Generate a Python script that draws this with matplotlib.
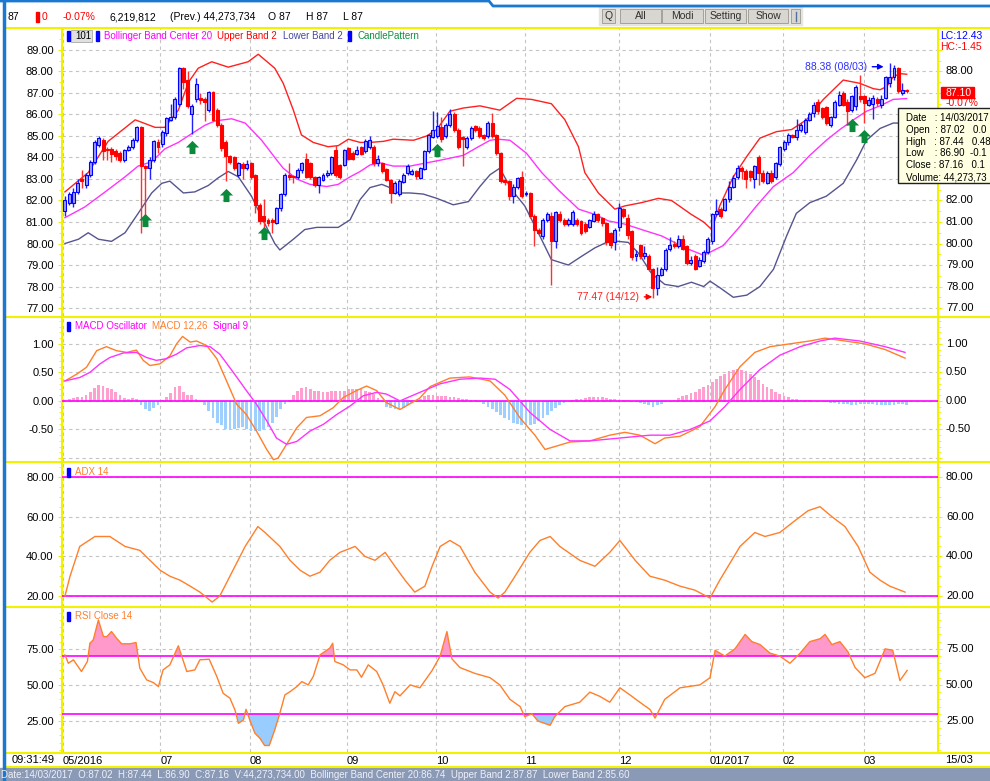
import matplotlib
matplotlib.use("Agg")
import matplotlib.pyplot as plt
import numpy as np
from matplotlib.lines import Line2D
from matplotlib.patches import Rectangle
from matplotlib.path import Path
from matplotlib.ticker import MultipleLocator

plt.rcParams['font.family'] = ['Liberation Sans', 'DejaVu Sans']
plt.rcParams['font.size'] = 8

# ---------------- data (bar 0 = last days of May 2016, bar 199 = 14/03/2017) ----------------
opens = [81.5, 81.9, 81.9, 82.4, 83.0, 82.7, 83.2, 83.8, 84.6, 84.8,
         84.4, 84.4, 84.3, 84.2, 83.9, 84.35, 84.5, 84.8, 85.4, 83.6,
         83.5, 83.9, 84.7, 84.65, 85.15, 85.75, 85.9, 86.5, 88.15, 87.6,
         86.0, 86.7, 86.75, 86.7, 86.2, 87.05, 86.2, 85.5, 84.7, 84.05,
         84.0, 83.2, 83.7, 83.5, 83.75, 83.2, 81.8, 81.3, 81.1, 81.1,
         80.95, 81.65, 82.3, 83.2, 83.15, 83.1, 83.4, 83.95, 83.75, 83.1,
         82.7, 82.95, 83.2, 83.3, 84.35, 83.65, 83.65, 84.45, 84.2, 84.15,
         84.5, 84.3, 84.5, 84.5, 83.75, 83.75, 83.45, 82.95, 82.35, 82.3,
         82.85, 83.3, 83.25, 83.35, 83.05, 83.45, 84.3, 84.95, 85.0, 85.4,
         85.0, 85.5, 86.0, 85.3, 84.95, 84.5, 84.9, 85.45, 85.35, 85.05,
         85.0, 85.6, 85.05, 84.2, 82.95, 82.9, 82.2, 82.65, 83.1, 82.3,
         82.35, 81.3, 80.65, 80.35, 81.1, 81.3, 80.1, 81.35, 81.1, 80.9,
         80.9, 81.1, 81.05, 80.9, 80.75, 81.05, 81.35, 81.2, 80.95, 80.5,
         80.05, 80.75, 81.6, 81.2, 80.6, 79.4, 79.95, 79.4, 79.4, 78.8,
         77.95, 78.55, 78.8, 79.75, 80.0, 79.9, 80.2, 79.9, 79.1, 79.4,
         78.95, 79.2, 79.6, 80.1, 81.35, 81.6, 81.55, 82.05, 82.65, 83.1,
         83.5, 83.35, 83.35, 83.0, 84.0, 83.3, 82.8, 83.3, 83.1, 83.7,
         84.4, 84.7, 85.05, 84.95, 85.3, 85.2, 85.75, 86.05, 86.6, 86.3,
         86.35, 85.5, 85.9, 86.45, 87.0, 86.6, 86.2, 86.4, 86.85, 86.85,
         86.45, 86.5, 86.7, 86.45, 86.75, 87.45, 87.75, 88.15, 87.02, 87.16]
highs = [82.2, 82.4, 82.6, 83.0, 83.4, 83.3, 83.9, 84.8, 85.0, 84.9,
         84.5, 84.5, 84.4, 84.3, 84.4, 84.6, 84.9, 85.45, 85.45, 83.65,
         84.0, 84.8, 84.85, 85.3, 85.9, 86.5, 86.8, 88.2, 88.2, 88.0,
         86.5, 87.7, 87.0, 86.8, 87.1, 87.1, 86.3, 85.6, 84.8, 84.1,
         84.05, 83.8, 83.8, 83.9, 83.8, 83.25, 81.9, 82.05, 81.2, 81.2,
         81.7, 82.35, 83.3, 83.75, 83.2, 83.5, 83.8, 84.2, 83.8, 83.15,
         83.15, 83.3, 83.4, 84.05, 84.6, 83.7, 84.4, 84.5, 84.3, 84.55,
         84.55, 84.85, 85.0, 84.6, 84.1, 83.8, 83.5, 83.0, 82.9, 83.0,
         83.3, 83.7, 83.45, 83.4, 83.55, 84.35, 85.1, 86.15, 86.1, 85.9,
         85.6, 86.25, 86.1, 85.35, 85.0, 85.0, 85.45, 85.5, 85.45, 85.1,
         85.7, 86.05, 85.1, 84.25, 83.0, 82.95, 82.75, 83.1, 83.35, 82.45,
         82.4, 81.35, 80.7, 81.2, 81.45, 81.45, 81.5, 81.5, 81.2, 81.2,
         81.55, 81.2, 81.1, 81.0, 81.15, 81.5, 81.4, 81.25, 81.0, 80.55,
         80.7, 81.9, 81.65, 81.35, 80.65, 79.7, 80.0, 79.9, 79.5, 78.85,
         78.9, 78.9, 79.8, 80.3, 80.1, 80.4, 80.4, 79.95, 79.4, 79.5,
         79.35, 79.7, 80.3, 81.4, 82.05, 81.7, 82.1, 82.9, 83.2, 83.65,
         83.6, 83.45, 83.4, 83.65, 84.1, 83.4, 83.35, 83.4, 83.8, 84.55,
         84.8, 85.15, 85.1, 85.8, 85.6, 85.85, 86.1, 86.6, 86.7, 86.35,
         86.4, 85.95, 86.65, 87.1, 87.1, 86.7, 86.9, 87.35, 87.85, 86.9,
         86.8, 86.9, 86.8, 86.9, 87.8, 88.38, 88.3, 88.2, 87.44, 87.2]
lows = [81.3, 81.8, 81.7, 82.3, 82.6, 82.6, 83.1, 83.7, 84.5, 83.9,
        83.9, 83.8, 83.9, 83.8, 83.8, 84.3, 84.4, 84.7, 80.5, 81.1,
        83.0, 83.8, 84.2, 84.5, 85.0, 85.7, 85.8, 86.4, 87.2, 86.3,
        85.1, 86.6, 86.5, 85.7, 86.1, 85.7, 85.4, 84.3, 82.9, 83.7,
        83.4, 83.1, 83.0, 83.4, 83.0, 81.4, 80.9, 80.4, 80.8, 80.5,
        80.9, 81.5, 82.2, 82.95, 82.8, 83.0, 83.3, 83.05, 83.0, 82.65,
        82.35, 82.9, 83.1, 83.2, 83.1, 83.0, 83.6, 83.9, 83.9, 84.1,
        84.1, 84.2, 84.4, 83.6, 83.6, 83.3, 82.9, 81.9, 82.3, 82.2,
        82.8, 83.2, 83.2, 83.0, 83.0, 83.4, 84.2, 84.9, 84.9, 84.7,
        84.9, 85.4, 85.2, 84.4, 83.6, 84.4, 84.8, 85.2, 84.9, 84.8,
        84.9, 84.9, 84.1, 82.8, 82.7, 82.0, 81.9, 82.55, 82.1, 82.2,
        81.2, 79.9, 80.4, 80.2, 81.0, 78.05, 79.8, 81.0, 80.8, 80.8,
        80.8, 80.8, 80.4, 80.5, 80.7, 81.0, 81.0, 80.8, 79.95, 79.8,
        79.7, 80.6, 81.2, 80.2, 79.25, 79.2, 79.3, 79.3, 78.7, 77.47,
        77.6, 78.5, 78.7, 79.65, 79.8, 79.8, 79.7, 79.0, 79.0, 78.75,
        78.9, 79.1, 79.5, 80.0, 81.3, 81.2, 81.5, 81.95, 82.6, 83.0,
        83.0, 82.6, 82.9, 82.6, 82.7, 82.8, 82.75, 82.8, 83.0, 83.6,
        84.3, 84.6, 84.9, 84.8, 85.2, 85.1, 85.7, 85.9, 86.0, 85.8,
        85.5, 85.4, 85.85, 86.4, 86.4, 85.5, 86.1, 86.2, 86.6, 85.6,
        86.4, 85.8, 86.4, 86.3, 86.7, 87.3, 87.6, 87.0, 86.90, 87.0]
closes = [82.0, 82.3, 82.4, 82.8, 82.9, 83.2, 83.8, 84.7, 84.9, 84.3,
          84.35, 84.15, 84.05, 83.9, 84.35, 84.5, 84.8, 85.4, 83.6, 83.5,
          83.9, 84.75, 84.5, 85.2, 85.85, 85.9, 86.7, 88.15, 87.5, 86.4,
          86.4, 87.4, 86.65, 86.6, 87.05, 85.75, 85.5, 84.45, 84.05, 83.8,
          83.5, 83.75, 83.5, 83.7, 83.1, 81.8, 81.05, 81.05, 80.95, 80.98,
          81.65, 82.3, 83.2, 83.1, 83.1, 83.4, 83.75, 83.1, 83.1, 82.7,
          83.1, 83.2, 83.3, 84.0, 83.2, 83.1, 84.35, 83.95, 83.95, 84.35,
          84.15, 84.75, 84.8, 83.75, 83.95, 83.35, 82.95, 82.35, 82.8, 82.9,
          83.2, 83.6, 83.35, 83.15, 83.5, 84.3, 85.05, 85.3, 85.45, 84.85,
          85.5, 86.0, 85.3, 84.5, 84.85, 84.9, 85.35, 85.3, 85.0, 84.9,
          85.6, 85.0, 84.2, 82.9, 82.85, 82.2, 82.65, 83.05, 82.2, 82.35,
          81.3, 80.65, 80.5, 81.1, 81.35, 80.1, 81.45, 81.1, 80.9, 81.1,
          81.45, 80.9, 80.5, 80.6, 81.1, 81.35, 81.1, 80.95, 80.05, 79.95,
          80.65, 81.65, 81.3, 80.4, 79.35, 79.5, 79.4, 79.55, 78.8, 77.95,
          78.55, 78.8, 79.7, 79.95, 79.9, 80.2, 79.75, 79.1, 79.25, 78.8,
          79.25, 79.6, 80.2, 81.35, 81.5, 81.3, 82.05, 82.65, 83.05, 83.5,
          83.35, 83.0, 83.1, 83.6, 83.3, 82.9, 83.3, 82.9, 83.75, 84.5,
          84.7, 85.05, 84.95, 85.3, 85.5, 85.75, 86.0, 86.45, 86.15, 85.9,
          85.6, 85.9, 86.6, 86.9, 86.45, 86.15, 86.85, 87.3, 86.7, 86.55,
          86.65, 86.75, 86.55, 86.7, 87.75, 87.75, 88.15, 87.1, 87.16, 87.10]

month_pos = [-0.5, 22.5, 43.7, 66.7, 87.7, 108.7, 131.0, 152.5, 169.7, 188.9]
month_labels = ['05/2016', '07', '08', '09', '10', '11', '12', '01/2017', '02', '03']

# Bollinger bands at sample bars
bb_up_x = [0, 5.5, 10.2, 16.6, 21.3, 23.6, 26.8, 29.2, 31.5, 34.7, 38.6, 43.3, 45.7, 49.6,
           51.6, 54.0, 55.9, 58.7, 62.2, 64.6, 67.0, 69.8, 72.1, 75.3, 77.6, 82.4, 85.5, 87.9,
           91.0, 94.2, 98.1, 102.8, 106.8, 110.3, 115.0, 118.2, 121.4, 122.9, 126.1, 130.0,
           132.4, 136.3, 140.3, 143.4, 148.1, 151.0, 152.9, 154.8, 158.0, 161.2, 164.3, 168.2,
           171.8, 175.3, 179.3, 184.0, 187.9, 191.1, 192.7, 194.3, 195.8, 197.4, 199.0]
bb_up = [82.4, 83.3, 84.75, 85.75, 85.4, 85.4, 86.2, 87.5, 88.15, 88.45, 88.2, 88.45, 88.8, 88.15,
         87.45, 86.2, 85.05, 84.7, 84.5, 84.55, 84.85, 84.7, 84.7, 84.75, 84.85, 84.8, 85.0, 85.3,
         86.15, 86.3, 86.4, 86.2, 86.75, 86.7, 86.5, 85.75, 84.5, 83.3, 82.35, 81.6,
         81.75, 81.9, 82.1, 82.0, 81.35, 81.0, 80.65, 81.75, 83.1, 84.05, 84.9, 85.2,
         85.3, 85.75, 86.7, 87.6, 87.45, 87.2, 87.15, 87.3, 87.75, 87.9, 87.87]
bb_mid_x = [0, 4.7, 9.5, 14.2, 17.3, 20.5, 23.6, 26.8, 29.9, 33.1, 35.5, 39.4, 42.6, 46.5, 49.6,
            51.6, 54.8, 57.9, 61.9, 64.6, 67.4, 69.8, 72.1, 74.5, 77.6, 81.6, 85.5, 89.4, 94.2,
            97.3, 100.5, 102.4, 105.2, 109.1, 112.7, 116.6, 121.4, 125.3, 128.5, 132.4, 136.3,
            141.1, 146.6, 151.0, 155.6, 159.6, 163.5, 167.5, 172.2, 176.1, 180.0, 183.2, 186.4,
            189.5, 192.7, 195.8, 199.0]
bb_mid = [81.2, 81.7, 82.4, 83.1, 83.6, 83.8, 84.4, 84.7, 85.1, 85.5, 85.7, 85.8, 85.6, 84.8, 84.0,
          83.5, 83.0, 82.75, 82.65, 82.75, 83.1, 83.35, 83.65, 83.75, 83.6, 83.6, 83.75, 83.9, 84.1,
          84.45, 84.8, 84.85, 84.8, 84.2, 83.3, 82.5, 81.6, 81.35, 81.05, 80.9, 80.65,
          80.35, 79.8, 79.45, 79.9, 80.8, 81.75, 82.65, 83.3, 84.1, 84.8, 85.3, 85.75,
          86.15, 86.4, 86.7, 86.74]
bb_lo_x = [0, 3.2, 5.5, 7.9, 11.0, 14.2, 17.3, 20.5, 22.9, 24.8, 28.0, 30.7, 33.9, 36.2, 38.6,
           41.0, 44.1, 47.3, 49.6, 50.8, 54.0, 56.7, 59.5, 64.6, 67.4, 69.8, 72.1, 74.9, 76.8,
           78.8, 81.6, 84.7, 87.9, 91.8, 95.4, 98.1, 100.5, 102.8, 105.6, 108.7, 111.9, 115.0,
           119.0, 122.1, 125.3, 128.0, 130.8, 133.2, 135.6, 138.7, 141.8, 145.0, 148.1, 151.0,
           152.5, 154.8, 158.0, 161.2, 164.3, 167.5, 170.6, 172.9, 176.1, 180.0, 184.0, 187.2,
           189.5, 192.7, 195.8, 199.0]
bb_lo = [80.0, 80.2, 80.5, 80.2, 80.1, 80.5, 81.4, 82.35, 82.8, 82.9, 82.35, 82.4, 82.7, 83.05, 83.35,
         83.1, 82.2, 80.9, 80.0, 79.7, 80.2, 80.65, 80.75, 80.75, 81.1, 82.05, 82.6, 82.75, 82.6,
         82.35, 82.35, 82.3, 82.1, 81.8, 81.95, 82.65, 83.2, 83.5, 82.5, 81.75, 80.5, 79.25,
         79.0, 79.4, 79.8, 80.05, 80.1, 80.05, 79.55, 78.6, 78.1, 78.0, 78.2, 78.0,
         78.25, 77.95, 77.5, 77.6, 78.0, 78.8, 80.35, 81.4, 81.9, 82.2, 82.8, 83.9,
         84.8, 85.35, 85.6, 85.6]

# candle pattern signals (green arrows)
cp_bar = [19, 30, 38, 47, 88, 186, 189]
cp_price = [81.1, 84.5, 82.26, 80.5, 84.35, 85.5, 85.0]

# MACD 12,26 / signal 9 / oscillator
macd_x = [0, 2.8, 5.1, 7.5, 9.8, 12.2, 14.6, 16.9, 18.5, 20.1, 22.5, 24.8, 26.4, 27.8, 29.6, 31.1,
          33.5, 35.9, 38.2, 40.6, 42.9, 45.3, 47.7, 49.3, 50.4, 52.4, 54.8, 57.1, 60.3, 63.4, 65.8,
          68.9, 71.3, 73.7, 76.0, 79.2, 83.9, 86.3, 91.0, 95.7, 100.5, 104.0, 107.6, 111.1, 113.5,
          115.8, 119.4, 124.1, 128.8, 132.4, 135.9, 139.5, 141.8, 145.4, 150.1, 153.7, 156.0, 159.6,
          163.1, 166.7, 171.4, 176.1, 179.7, 184.4, 189.1, 193.9, 198.6]
macd_v = [0.35, 0.47, 0.59, 0.88, 0.95, 0.88, 0.85, 0.89, 0.71, 0.62, 0.65, 0.79, 1.0, 1.13, 1.03, 1.05,
          0.97, 0.74, 0.35, -0.06, -0.24, -0.53, -0.85, -1.03, -1.0, -0.76, -0.47, -0.29, -0.26, -0.12, 0.06,
          0.18, 0.26, 0.18, -0.03, -0.15, 0.05, 0.25, 0.4, 0.42, 0.35, 0.1, -0.3, -0.6, -0.85,
          -0.8, -0.72, -0.7, -0.6, -0.55, -0.6, -0.75, -0.65, -0.62, -0.45, -0.1, 0.2, 0.6,
          0.85, 0.95, 1.0, 1.05, 1.1, 1.05, 1.0, 0.9, 0.75]
sig_x = [0, 3.5, 5.9, 8.3, 10.6, 13.8, 16.9, 19.3, 21.6, 24.0, 26.4, 28.8, 31.9, 34.3, 36.6, 39.8,
         42.9, 45.3, 47.7, 50.0, 52.4, 54.8, 57.9, 61.1, 64.2, 67.4, 70.5, 73.7, 76.0, 79.2, 83.9,
         88.7, 93.4, 98.1, 101.7, 105.2, 109.9, 114.7, 119.4, 124.1, 131.2, 138.3, 143.0, 147.8,
         152.5, 156.0, 159.6, 164.3, 169.0, 173.8, 178.5, 182.0, 187.9, 193.9, 198.6]
sig_v = [0.35, 0.41, 0.5, 0.65, 0.76, 0.84, 0.85, 0.76, 0.71, 0.74, 0.82, 0.93, 0.97, 0.95, 0.82, 0.5,
         0.18, -0.06, -0.35, -0.65, -0.76, -0.71, -0.53, -0.41, -0.24, -0.09, 0.09, 0.15, 0.12, 0.0, 0.15,
         0.3, 0.38, 0.4, 0.38, 0.2, -0.2, -0.5, -0.7, -0.7, -0.65, -0.6, -0.6, -0.5,
         -0.35, -0.1, 0.2, 0.55, 0.8, 0.95, 1.05, 1.1, 1.05, 0.95, 0.85]
osc = [0.02, 0.03, 0.05, 0.06, 0.06, 0.1, 0.15, 0.22, 0.28, 0.27,
       0.23, 0.2, 0.16, 0.1, 0.05, 0.04, 0.05, 0.03, -0.08, -0.15,
       -0.17, -0.12, -0.08, 0.02, 0.06, 0.14, 0.24, 0.26, 0.15, 0.1,
       0.1, 0.03, -0.02, -0.08, -0.18, -0.3, -0.38, -0.43, -0.5, -0.5,
       -0.5, -0.48, -0.45, -0.5, -0.52, -0.53, -0.52, -0.5, -0.45, -0.38,
       -0.28, -0.15, -0.05, 0.02, 0.1, 0.18, 0.22, 0.24, 0.2, 0.17,
       0.17, 0.16, 0.16, 0.17, 0.18, 0.18, 0.18, 0.2, 0.2, 0.2,
       0.2, 0.18, 0.15, 0.12, 0.05, -0.02, -0.1, -0.13, -0.15, -0.15,
       -0.12, -0.08, -0.04, 0.0, 0.04, 0.08, 0.1, 0.1, 0.09, 0.08,
       0.08, 0.07, 0.06, 0.05, 0.04, 0.03, 0.02, 0.01, -0.02, -0.05,
       -0.1, -0.15, -0.2, -0.25, -0.3, -0.34, -0.38, -0.4, -0.42, -0.43,
       -0.42, -0.4, -0.36, -0.3, -0.24, -0.18, -0.12, -0.07, -0.03, 0.0,
       0.02, 0.03, 0.04, 0.05, 0.06, 0.07, 0.07, 0.06, 0.05, 0.04,
       0.03, 0.02, 0.02, 0.01, 0.0, -0.02, -0.04, -0.06, -0.08, -0.1,
       -0.08, -0.05, -0.02, 0.0, 0.02, 0.05, 0.08, 0.1, 0.13, 0.16,
       0.2, 0.24, 0.28, 0.33, 0.38, 0.43, 0.48, 0.52, 0.55, 0.56,
       0.55, 0.52, 0.47, 0.42, 0.36, 0.3, 0.25, 0.2, 0.16, 0.12,
       0.09, 0.06, 0.04, 0.03, 0.02, 0.01, 0.01, 0.0, 0.0, -0.01,
       -0.02, -0.03, -0.04, -0.05, -0.06, -0.06, -0.07, -0.07, -0.06, -0.05,
       -0.05, -0.06, -0.07, -0.08, -0.08, -0.08, -0.07, -0.06, -0.06, -0.07]

# ADX 14
adx_x = [0, 1.2, 3.5, 7.1, 10.6, 14.2, 17.7, 20.1, 22.5, 24.8, 27.2, 29.6, 31.9, 34.8, 36.6,
         39.0, 42.6, 45.6, 47.3, 50.8, 53.2, 55.6, 57.9, 60.3, 62.6, 65.0, 68.6, 70.9, 73.3, 75.7,
         78.0, 80.4, 82.7, 85.1, 86.8, 88.7, 91.0, 93.4, 96.9, 100.5, 102.4, 104.0, 106.4, 109.9,
         112.3, 114.7, 117.0, 121.7, 125.3, 128.8, 131.2, 134.8, 138.3, 141.8, 145.4, 148.9,
         152.5, 154.8, 159.6, 163.1, 165.5, 169.0, 172.6, 175.7, 178.5, 181.3, 184.4, 187.5,
         190.3, 192.7, 195.0, 198.6]
adx_v = [20, 30, 45, 50, 50, 45, 43, 38, 33, 30, 28, 25, 22, 17, 20,
         30, 45, 55, 52, 45, 38, 33, 30, 32, 38, 42, 45, 40, 38, 42,
         35, 28, 22, 25, 35, 45, 48, 45, 32, 22, 19, 22, 30, 42,
         48, 50, 45, 38, 35, 42, 48, 38, 30, 28, 25, 23,
         19, 28, 45, 52, 50, 52, 58, 63, 65, 60, 55, 45,
         32, 28, 25, 22]

# RSI close 14
rsi_x = [0, 0.8, 2.0, 3.9, 5.3, 5.9, 6.7, 7.9, 9.1, 9.9,
         11.0, 12.2, 13.4, 15.4, 16.8, 17.7, 19.3, 20.9, 22.1, 23.2,
         24.8, 26.8, 28.8, 30.7, 31.9, 34.1, 35.9, 37.4, 39.0, 40.2,
         41.0, 42.2, 42.8, 43.7, 44.9, 46.1, 47.2, 48.3, 49.6, 50.8,
         52.0, 53.2, 54.8, 56.0, 57.5, 58.7, 60.3, 62.6, 63.3, 63.8,
         65.8, 67.4, 69.0, 70.1, 71.7, 73.7, 75.2, 76.8, 78.0, 79.2,
         81.6, 83.9, 86.8, 88.7, 90.3, 91.5, 93.4, 96.9, 100.5, 102.8,
         105.2, 107.6, 108.7, 110.4, 111.8, 114.7, 115.8, 118.2, 121.7, 124.1,
         126.5, 128.8, 131.2, 133.6, 135.9, 138.3, 139.5, 141.8, 145.4, 150.1,
         152.5, 153.7, 156.0, 158.4, 160.8, 162.4, 164.3, 166.7, 169.0, 171.4,
         173.8, 176.1, 178.5, 179.7, 181.3, 183.2, 185.1, 186.8, 189.1, 191.5,
         193.9, 195.7, 197.4, 199.1]
rsi_v = [70.8, 65.0, 67.4, 59.3, 66.2, 78.9, 81.3, 95.0, 83.5, 83.5,
         87.0, 82.4, 78.5, 78.5, 79.4, 61.6, 53.5, 51.6, 48.8, 60.4,
         63.9, 77.1, 59.3, 60.4, 67.4, 67.8, 55.8, 44.2, 40.8, 32.6,
         23.4, 25.7, 33.1, 25.7, 16.5, 13.0, 8.0, 8.0, 18.8, 30.3,
         43.1, 45.3, 48.8, 52.3, 50.0, 55.8, 70.8, 75.5, 78.9, 66.2,
         63.9, 60.4, 60.4, 55.3, 63.9, 59.3, 50.0, 37.3, 45.3, 42.4,
         50.0, 48.0, 60.0, 70.0, 87.0, 68.0, 62.0, 58.0, 55.0, 50.0,
         40.0, 35.0, 28.0, 30.0, 25.0, 22.0, 28.0, 35.0, 38.0, 45.0,
         42.0, 38.0, 48.0, 43.0, 38.0, 33.0, 27.0, 40.0, 48.0, 50.0,
         55.0, 74.0, 70.0, 75.0, 85.0, 80.0, 78.0, 72.0, 70.0, 65.0,
         72.0, 80.0, 82.0, 85.0, 78.0, 80.0, 73.0, 62.0, 55.0, 58.0,
         75.0, 74.0, 53.0, 60.0]

# ---------------- figure ----------------
W, H = 990.0, 781.0
fig = plt.figure(figsize=(9.9, 7.81), dpi=100)
fig.patch.set_facecolor('white')

def fx(px):
    return px / W

def fy(py):
    return 1 - py / H

YEL = '#f2f200'
GRID = '#c4c4c4'
ORANGE = '#ff7f2a'
MAGENTA = '#ff33ff'
TXT = 7.0   # small UI text (legends, toolbar, status bar)

def panel(top, bottom):
    return fig.add_axes([fx(62), fy(bottom), (938 - 62) / W, (bottom - top) / H])

def style(ax, lo, hi, ticks, labels, minor, right_vals):
    ax.set_xlim(-0.7, 206.4)
    ax.set_ylim(lo, hi)
    ax.set_axisbelow(True)
    ax.set_yticks(ticks)
    ax.set_yticklabels(labels)
    ax.yaxis.set_minor_locator(MultipleLocator(minor))
    ax.set_xticks(month_pos)
    ax.set_xticklabels([])
    ax.tick_params(axis='x', length=0)
    ax.tick_params(axis='y', which='both', left=True, right=True, labelleft=True,
                   labelright=False, color=YEL, labelcolor='black', labelsize=8)
    ax.tick_params(axis='y', which='major', length=3, pad=3)
    ax.tick_params(axis='y', which='minor', length=2)
    ax.grid(True, which='major', color=GRID, ls=(0, (3, 3)), lw=0.8)
    for s in ('top', 'bottom'):
        ax.spines[s].set_visible(False)
    for s in ('left', 'right'):
        ax.spines[s].set_color(YEL)
        ax.spines[s].set_linewidth(1.5)
    # right-hand scale (some values are hidden behind the price boxes)
    for v in right_vals:
        ax.annotate('%.2f' % v, xy=(1, v), xycoords=('axes fraction', 'data'),
                    xytext=(8, 0), textcoords='offset pixels', va='center', ha='left',
                    fontsize=8, annotation_clip=False)

ax_p = panel(28, 316)
ax_m = panel(317, 462)
ax_a = panel(462, 607)
ax_r = panel(607, 752)

pt = list(range(77, 90))
style(ax_p, 76.63, 90.02, pt, ['%.2f' % v for v in pt], 0.5, [77, 78, 79, 80, 81, 82, 88])
style(ax_m, -1.07, 1.47, [-1.0, -0.5, 0.0, 0.5, 1.0], ['', '-0.50', '0.00', '0.50', '1.00'], 0.1,
      [-0.5, 0.0, 0.5, 1.0])
style(ax_a, 14.5, 87.5, [20, 40, 60, 80], ['20.00', '40.00', '60.00', '80.00'], 5, [20, 40, 60, 80])
style(ax_r, 3.5, 104, [25, 50, 75], ['25.00', '50.00', '75.00'], 5, [25, 50, 75])

# ---- price panel ----
o = np.array(opens); h = np.array(highs); l = np.array(lows); c = np.array(closes)
x = np.arange(len(c))
up = c >= o
wick_col = np.where(up, '#2020ff', '#ff3030')
ax_p.vlines(x, l, h, colors=wick_col, lw=1, zorder=3)
bot = np.minimum(o, c)
hgt = np.maximum(np.abs(c - o), 0.05)
ax_p.bar(x[up], hgt[up], bottom=bot[up], width=0.7, color='#9c9cff', edgecolor='#0000ff', lw=0.8, zorder=4)
ax_p.bar(x[~up], hgt[~up], bottom=bot[~up], width=0.7, color='#ff0000', edgecolor='#ff0000', lw=0.8, zorder=4)

ax_p.plot(bb_up_x, bb_up, color='#ff2020', lw=1, zorder=2)
ax_p.plot(bb_mid_x, bb_mid, color=MAGENTA, lw=1, zorder=2)
ax_p.plot(bb_lo_x, bb_lo, color='#55558f', lw=1, zorder=2)

arrow_path = Path([(0, 1), (1, 0), (0.45, 0), (0.45, -1), (-0.45, -1), (-0.45, 0), (-1, 0), (0, 1)],
                  [Path.MOVETO] + [Path.LINETO] * 6 + [Path.CLOSEPOLY])
ax_p.scatter(cp_bar, cp_price, marker=arrow_path, s=90, color='#0a8a3a', zorder=5, lw=0)

ax_p.text(189.6, 88.22, '88.38 (08/03)', color='#3030ff', ha='right', va='center', fontsize=TXT + 0.5)
ax_p.annotate('', xy=(194.2, 88.22), xytext=(190.2, 88.22),
              arrowprops=dict(arrowstyle='-|>', color='#0000ff', lw=1, mutation_scale=8))
ax_p.text(135.8, 77.52, '77.47 (14/12)', color='#ff2020', ha='right', va='center', fontsize=TXT + 0.5)
ax_p.annotate('', xy=(139.5, 77.52), xytext=(136.3, 77.52),
              arrowprops=dict(arrowstyle='-|>', color='#ff0000', lw=1, mutation_scale=8))

# ---- MACD ----
osc_a = np.array(osc)
ax_m.bar(x, osc_a, width=0.65, color=np.where(osc_a >= 0, '#ff9fcf', '#9fcfff'), zorder=2)
ax_m.axhline(0, color='#ff00ff', lw=1.2, zorder=3)
ax_m.plot(macd_x, macd_v, color=ORANGE, lw=1, zorder=4)
ax_m.plot(sig_x, sig_v, color=MAGENTA, lw=1, zorder=4)

# ---- ADX ----
ax_a.axhline(80, color='#ff00ff', lw=1.2, zorder=3)
ax_a.axhline(20, color='#ff00ff', lw=1.2, zorder=3)
ax_a.plot(adx_x, adx_v, color=ORANGE, lw=1, zorder=4)

# ---- RSI ----
rx = np.array(rsi_x); rv = np.array(rsi_v)
ax_r.fill_between(rx, rv, 70, where=rv >= 70, interpolate=True, color='#ff99cc', lw=0, zorder=2)
ax_r.fill_between(rx, rv, 30, where=rv <= 30, interpolate=True, color='#99ccff', lw=0, zorder=2)
ax_r.axhline(70, color='#ff00ff', lw=1.2, zorder=3)
ax_r.axhline(30, color='#ff00ff', lw=1.2, zorder=3)
ax_r.plot(rx, rv, color=ORANGE, lw=1, zorder=4)

ax_r.set_xticklabels(month_labels)
ax_r.tick_params(axis='x', labelbottom=True, pad=3, labelsize=8)
for lbl in ax_r.get_xticklabels():
    lbl.set_ha('left')

# ---------------- chrome ----------------
def frect(x0, y0, x1, y1, **kw):
    fig.add_artist(Rectangle((fx(x0), fy(y1)), (x1 - x0) / W, (y1 - y0) / H,
                             transform=fig.transFigure, **kw))

def ftext(px, py, s, **kw):
    kw.setdefault('va', 'center')
    kw.setdefault('fontsize', TXT)
    fig.text(fx(px), fy(py), s, **kw)

for py in [28, 316.5, 462, 607, 752.5, 767]:
    fig.add_artist(Line2D([fx(5), 1], [fy(py), fy(py)], color=YEL, lw=1.5))

# top border and left border
fig.add_artist(Line2D([0, fx(489), fx(493), 1], [fy(1), fy(1), fy(6), fy(6)], color='#1a78d0', lw=2))
fig.add_artist(Line2D([fx(4), fx(4)], [fy(1), 0], color='#1a78d0', lw=2.5))

# toolbar
ftext(8, 17, '87', fontsize=7.5)
frect(36, 12, 38.5, 22, color='#ff0000')
ftext(42, 17, '0', color='#ff0000', fontsize=7.5)
ftext(63, 17, '-0.07%', color='#ff0000', fontsize=7.5)
ftext(110, 17, '6,219,812', fontsize=7.5)
ftext(170, 17, '(Prev.) 44,273,734', fontsize=7.5)
ftext(268, 17, 'O 87', fontsize=7.5)
ftext(306, 17, 'H 87', fontsize=7.5)
ftext(343, 17, 'L 87', fontsize=7.5)
frect(599, 7, 802, 25, color='#e6e4e0')
for bx0, bx1, lab in [(602, 615, 'Q'), (620, 661, 'All'), (662, 703, 'Modi'),
                      (705, 746, 'Setting'), (748, 788, 'Show'), (791, 800, '')]:
    frect(bx0, 9, bx1, 23, facecolor='#d8d6d0', edgecolor='#9a9890', lw=0.6)
    if lab:
        ftext((bx0 + bx1) / 2, 16, lab, ha='center', color='#303030', fontsize=7.5)
fig.add_artist(Line2D([fx(795.5), fx(795.5)], [fy(12), fy(21)], color='#5070a0', lw=1))

# panel legends
def marker(px, py):
    frect(px, py - 4.5, px + 3, py + 4.5, color='#0000ff')

marker(66.5, 36)
frect(71, 30, 92, 42, facecolor='#e0e0e0', edgecolor='#a8a8a8', lw=0.6)
ftext(75, 36, '101')
marker(96, 36)
ftext(104, 36, 'Bollinger Band Center 20', color='#ff00ff')
ftext(217, 36, 'Upper Band 2', color='#ff0000')
ftext(283, 36, 'Lower Band 2', color='#4848a0')
marker(348, 36)
ftext(357, 36, 'CandlePattern', color='#109040')

marker(66.5, 326)
ftext(75, 326, 'MACD Oscillator', color='#ff00ff')
ftext(152, 326, 'MACD 12,26', color=ORANGE)
ftext(213, 326, 'Signal 9', color='#ff00ff')

marker(66.5, 472)
ftext(75, 472, 'ADX 14', color=ORANGE)

marker(66.5, 616)
ftext(75, 616, 'RSI Close 14', color=ORANGE)

# right side info
ftext(940, 36, 'LC:12.43', color='#0000ff', fontsize=7.5)
ftext(940, 47, 'HC:-1.45', color='#ff0000', fontsize=7.5)
frect(941, 87, 974, 98, color='#ff0000', zorder=5)
ftext(946, 92.5, '87.10', color='white', zorder=6, fontsize=7.5)
ftext(946, 103, '-0.07%', color='#ff0000', fontsize=7.5)

frect(898, 108, 995, 183, facecolor='#ffffe1', edgecolor='#202020', lw=1, zorder=5)
info = ['Date   : 14/03/2017', 'Open  : 87.02   0.0', 'High   : 87.44   0.48',
        'Low    : 86.90  -0.1', 'Close : 87.16   0.1', 'Volume: 44,273,73']
for i, row in enumerate(info):
    ftext(906, 118 + i * 11.8, row, zorder=6)

# bottom line
ftext(12, 760, '09:31:49', fontsize=8)
ftext(945, 760, '15/03', fontsize=8)
frect(0, 768, 990, 781, color='#8a99b6')
ftext(1, 775, 'Date:14/03/2017  O:87.02  H:87.44  L:86.90  C:87.16  V:44,273,734.00  '
      'Bollinger Band Center 20:86.74  Upper Band 2:87.87  Lower Band 2:85.60', color='#eef0f6')

fig.savefig('out.png', dpi=100)
